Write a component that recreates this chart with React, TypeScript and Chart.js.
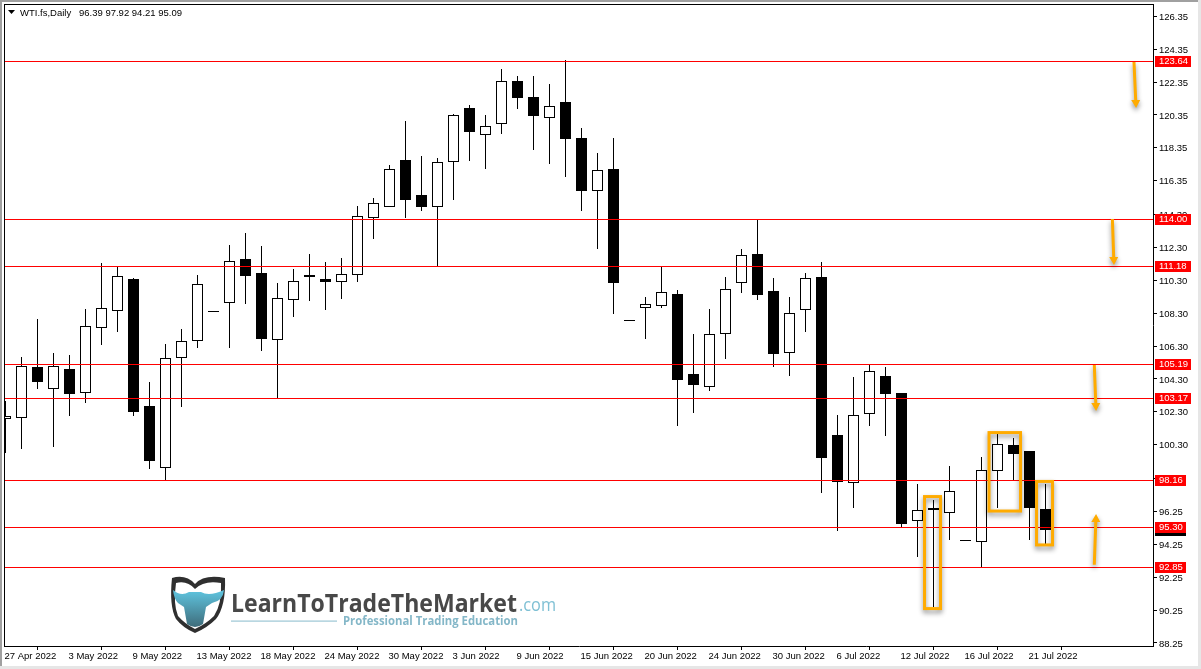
import React, { useEffect, useRef } from "react";
import { Chart, registerables } from "chart.js";

Chart.register(...registerables);

const symbolLabel = "WTI.fs,Daily";
const opens = [101.90,101.96,105.02,103.78,104.90,103.48,107.43,108.47,110.37,102.64,98.97,105.61,106.64,108.41,108.96,111.57,110.74,106.70,109.14,110.62,110.37,110.23,110.66,114.13,114.80,117.60,115.47,114.80,117.54,120.76,119.18,119.85,122.41,121.43,120.21,121.13,118.94,115.77,117.05,107.86,108.69,108.81,109.46,104.63,103.88,107.07,110.17,111.89,109.64,105.91,108.53,110.49,100.88,98.06,102.26,104.47,103.44,95.75,96.44,96.24,94.53,94.47,98.79,100.27,99.91,96.39];
const highs = [102.95,105.63,107.94,105.87,105.75,108.55,111.35,111.12,110.43,104.10,106.42,107.33,110.62,108.41,112.44,113.17,112.38,110.13,110.98,111.89,111.41,111.65,114.80,115.28,117.31,119.99,117.84,117.74,120.41,120.96,120.35,123.15,122.73,122.73,122.24,123.70,119.56,118.04,118.95,107.86,109.28,111.12,109.70,107.03,108.55,110.48,112.20,114.01,110.42,109.26,110.72,111.41,102.10,104.41,105.18,105.02,103.44,97.90,96.92,98.99,94.53,99.54,100.94,100.70,99.91,97.92];
const lows = [99.77,100.05,103.70,100.17,102.05,102.84,106.37,107.17,102.05,98.83,98.14,102.60,106.19,108.41,106.19,108.87,106.01,103.11,108.08,109.05,108.51,109.17,110.21,112.83,114.80,114.10,114.53,111.15,115.20,117.57,117.09,119.22,120.74,118.24,117.39,116.60,114.53,112.20,108.26,107.86,106.74,108.63,101.45,102.24,103.58,105.52,109.54,109.11,105.04,104.49,107.17,97.37,95.05,96.45,101.45,100.84,95.30,93.47,90.43,94.51,94.53,92.85,96.45,98.12,94.51,94.21];
const closes = [102.02,105.06,104.12,105.06,103.39,107.49,108.59,110.54,102.30,99.31,105.55,106.58,110.05,108.41,111.45,110.57,106.74,109.20,110.23,110.51,110.21,110.66,114.19,114.98,117.05,115.20,114.77,117.48,120.34,119.34,119.67,122.41,121.35,120.31,120.88,118.91,115.75,116.99,110.15,107.86,108.83,109.56,104.24,103.94,107.01,109.75,111.82,109.42,105.83,108.29,110.42,99.50,98.06,102.08,104.76,103.39,95.48,96.36,96.33,97.51,94.53,98.79,100.37,99.74,96.45,95.09];

const dateTickIndexes = [0,4,8,12,16,20,24,28,32,36,40,44,48,52,56,60,64];
const dateTickLabels = ["27 Apr 2022","3 May 2022","9 May 2022","13 May 2022","18 May 2022","24 May 2022","30 May 2022","3 Jun 2022","9 Jun 2022","15 Jun 2022","20 Jun 2022","24 Jun 2022","30 Jun 2022","6 Jul 2022","12 Jul 2022","16 Jul 2022","21 Jul 2022"];
const priceTicks = [126.35,124.35,122.35,120.35,118.35,116.35,114.30,112.30,110.30,108.30,106.30,104.30,102.30,100.30,98.25,96.25,94.25,92.25,90.25,88.25];
const levels = [123.64,114.00,111.18,105.19,103.17,98.16,95.30,92.85];

// highlight boxes: [left index, right index, top price, bottom price]
const boxes = [
  [57.44, 58.44, 97.15, 90.34],
  [61.47, 63.44, 101.04, 96.27],
  [64.44, 65.44, 98.07, 94.21],
];
// arrows: [tail index, tail price, tip index, tip price]
const arrows = [
  [70.53, 123.57, 70.66, 120.77],
  [69.18, 114.02, 69.28, 111.23],
  [68.05, 105.15, 68.16, 102.35],
  [68.05, 93.0, 68.16, 96.09],
];

const X_MIN = -0.03125;
const X_MAX = 71.71875;
const Y_MAX = 127.093;
const Y_MIN = 88.066;
const FONT = '9.5px "Liberation Sans"';
const ORANGE = "#ffab00";

const overlay = {
  id: "overlay",
  beforeDatasetDraw(chart: any, args: any) {
    const meta = args.meta;
    if (meta.type === "bar") {
      const isBody = meta.controller.getDataset().label === "body";
      meta.data.forEach((el: any, i: number) => {
        const t = Math.round(Math.min(el.y, el.base));
        let b = Math.round(Math.max(el.y, el.base));
        if (isBody && closes[i] > opens[i]) b += 1;
        if (b - t < 1) b = t + 1;
        el.y = t;
        el.base = b;
      });
    } else {
      meta.data.forEach((pt: any) => {
        pt.y = Math.round(pt.y) + 0.5;
      });
    }
  },
  afterDatasetsDraw(chart: any) {
    const { ctx, scales } = chart;
    const xs = scales.x;
    const ys = scales.y;
    ctx.save();
    ctx.shadowColor = "rgba(0,0,0,0.45)";
    ctx.shadowBlur = 5;
    ctx.shadowOffsetX = 0;
    ctx.shadowOffsetY = 3;
    ctx.strokeStyle = ORANGE;
    ctx.lineWidth = 3;
    boxes.forEach(([l, r, t, b]) => {
      const x0 = xs.getPixelForValue(l);
      const x1 = xs.getPixelForValue(r);
      const y0 = ys.getPixelForValue(t);
      const y1 = ys.getPixelForValue(b);
      ctx.strokeRect(x0, y0, x1 - x0, y1 - y0);
    });
    arrows.forEach(([ax, ap, bx, bp]) => {
      const x0 = xs.getPixelForValue(ax);
      const y0 = ys.getPixelForValue(ap);
      const x1 = xs.getPixelForValue(bx);
      const y1 = ys.getPixelForValue(bp);
      const dir = y1 > y0 ? 1 : -1;
      const headY = y1 - dir * 8;
      const headX = x0 + ((x1 - x0) * (headY - y0)) / (y1 - y0);
      ctx.fillStyle = ORANGE;
      ctx.beginPath();
      ctx.moveTo(x0 - 1.5, y0);
      ctx.lineTo(x0 + 1.5, y0);
      ctx.lineTo(headX + 1.5, headY);
      ctx.lineTo(headX + 4.5, headY);
      ctx.lineTo(x1, y1);
      ctx.lineTo(headX - 4.5, headY);
      ctx.lineTo(headX - 1.5, headY);
      ctx.closePath();
      ctx.fill();
    });
    ctx.restore();
    drawLogo(ctx);
  },
  afterDraw(chart: any) {
    const { ctx, scales } = chart;
    const ys = scales.y;
    ctx.save();
    ctx.fillStyle = "#a0a0a0";
    ctx.fillRect(0, 0, 1201, 2);
    ctx.fillRect(0, 0, 2, 669);
    ctx.fillStyle = "#e6e6e6";
    ctx.fillRect(0, 666, 1201, 3);
    ctx.fillRect(1198, 0, 3, 669);
    ctx.fillStyle = "#000";
    ctx.fillRect(4, 4, 1150, 1);
    ctx.fillRect(4, 4, 1, 643);
    ctx.beginPath();
    ctx.moveTo(8, 10);
    ctx.lineTo(15, 10);
    ctx.lineTo(11.5, 14);
    ctx.closePath();
    ctx.fill();
    ctx.font = FONT;
    ctx.textBaseline = "middle";
    ctx.textAlign = "left";
    const last = opens.length - 1;
    ctx.fillText(symbolLabel, 20, 13);
    ctx.fillText(
      [opens[last], highs[last], lows[last], closes[last]].map((v) => v.toFixed(2)).join(" "),
      79,
      13
    );
    const tag = (value: number, color: string) => {
      const y = Math.round(ys.getPixelForValue(value));
      const text = value.toFixed(2);
      const w = text.length > 5 ? 36 : 31;
      ctx.fillStyle = color;
      ctx.fillRect(1155, y - 5, w, 11);
      ctx.fillStyle = "#fff";
      ctx.fillText(text, 1159, y + 0.5);
    };
    tag(closes[last], "#000");
    levels.forEach((v) => tag(v, "#ff0000"));
    ctx.restore();
  },
};

function drawLogo(ctx: CanvasRenderingContext2D) {
  ctx.save();
  const outer = new Path2D("M172 578 Q186 574 195 584 Q204 574 225 578 Q226 606 216 619 Q207 628 195 633 Q183 628 176 619 Q169 606 172 578 Z");
  ctx.fillStyle = "#2f2f2f";
  ctx.fill(outer);
  const inner = new Path2D("M176 583 Q187 580 195 589 Q204 580 221 583 Q222 604 214 616 Q206 624 195 629 Q185 624 178 616 Q173 604 176 583 Z");
  ctx.fillStyle = "#ffffff";
  ctx.fill(inner);
  const head = new Path2D("M173 590 Q181 597 189 592 L201 592 Q209 597 224 590 Q223 601 212 603 L206 607 L203 624 Q195 630 187 624 L184 607 L178 603 Q174 599 173 590 Z");
  const g = ctx.createLinearGradient(195, 590, 195, 628);
  g.addColorStop(0, "#5fc5e0");
  g.addColorStop(1, "#3e6a78");
  ctx.fillStyle = g;
  ctx.fill(head);

  ctx.textBaseline = "alphabetic";
  ctx.textAlign = "left";
  const fitText = (text: string, x: number, y: number, w: number, font: string, color: string) => {
    ctx.save();
    ctx.font = font;
    ctx.fillStyle = color;
    const m = ctx.measureText(text).width;
    ctx.translate(x, y);
    ctx.scale(w / m, 1);
    ctx.fillText(text, 0, 0);
    ctx.restore();
  };
  fitText("LearnToTradeTheMarket", 231, 612, 286, 'bold 25px "Open Sans"', "#484848");
  fitText(".com", 519, 611, 37, '400 18px "Open Sans"', "#7fc0d4");
  fitText("Professional Trading Education", 343, 625, 175, 'bold 12px "Open Sans"', "#84b7c8");
  ctx.fillStyle = "#9cc6d4";
  ctx.fillRect(231, 620.5, 106, 1.2);
  ctx.restore();
}

function clearScalePadding(scale: any) {
  scale.paddingTop = 0;
  scale.paddingBottom = 0;
  scale.paddingLeft = 0;
  scale.paddingRight = 0;
  if (scale._margins) {
    scale._margins.top = 0;
    scale._margins.bottom = 0;
    scale._margins.left = 0;
    scale._margins.right = 0;
  }
}

export default function App() {
  const ref = useRef<HTMLCanvasElement | null>(null);
  useEffect(() => {
    if (!ref.current) return;
    const idx = opens.map((_, i) => i);
    const chart = new Chart(ref.current, {
      type: "bar",
      data: {
        datasets: [
          ...levels.map((v) => ({
            type: "line" as const,
            label: "level",
            data: [{ x: X_MIN, y: v }, { x: X_MAX, y: v }],
            borderColor: "#ff0000",
            borderWidth: 1,
            pointRadius: 0,
            order: 1,
          })),
          {
            label: "body",
            data: idx.map((i) => ({ x: i, y: [opens[i], closes[i]] })),
            backgroundColor: idx.map((i) => (closes[i] >= opens[i] ? "#ffffff" : "#000000")),
            borderColor: "#000000",
            borderWidth: 1,
            borderSkipped: false,
            inflateAmount: 0,
            barThickness: 11,
            grouped: false,
            order: 2,
          },
          {
            label: "wick",
            data: idx.map((i) => ({ x: i, y: [lows[i], highs[i]] })),
            backgroundColor: "#000000",
            borderWidth: 0,
            inflateAmount: 0,
            barThickness: 1,
            grouped: false,
            order: 3,
          },
        ] as any,
      },
      options: {
        responsive: false,
        animation: false,
        devicePixelRatio: 1,
        events: [],
        layout: { autoPadding: false, padding: { left: 5, top: 4, right: 0, bottom: 0 } },
        plugins: { legend: { display: false }, tooltip: { enabled: false } },
        scales: {
          x: {
            type: "linear",
            min: X_MIN,
            max: X_MAX,
            offset: false,
            afterBuildTicks(scale: any) {
              scale.ticks = dateTickIndexes.map((value) => ({ value }));
            },
            afterFit(scale: any) {
              scale.height = 23;
              clearScalePadding(scale);
            },
            border: { display: true, color: "#000" },
            grid: { drawOnChartArea: false, drawTicks: true, tickLength: 4, color: "#000" },
            ticks: {
              autoSkip: false,
              maxRotation: 0,
              minRotation: 0,
              align: "start",
              padding: 1,
              labelOffset: -1,
              color: "#000",
              font: { family: "Liberation Sans", size: 9.5 },
              callback: (v: any) => dateTickLabels[dateTickIndexes.indexOf(Number(v))] ?? "",
            },
          },
          y: {
            type: "linear",
            position: "right",
            min: Y_MIN,
            max: Y_MAX,
            afterBuildTicks(scale: any) {
              scale.ticks = priceTicks.map((value) => ({ value }));
            },
            afterFit(scale: any) {
              scale.width = 48;
              clearScalePadding(scale);
            },
            border: { display: true, color: "#000" },
            grid: { drawOnChartArea: false, drawTicks: true, tickLength: 4, color: "#000" },
            ticks: {
              autoSkip: false,
              padding: 2,
              labelOffset: 1,
              color: "#000",
              font: { family: "Liberation Sans", size: 9.5 },
              callback: (v: any) => Number(v).toFixed(2),
            },
          },
        },
      } as any,
      plugins: [overlay],
    });
    return () => chart.destroy();
  }, []);
  return (
    <canvas
      ref={ref}
      width={1201}
      height={669}
      style={{ position: "fixed", left: 0, top: 0, display: "block", background: "#fff" }}
    />
  );
}
